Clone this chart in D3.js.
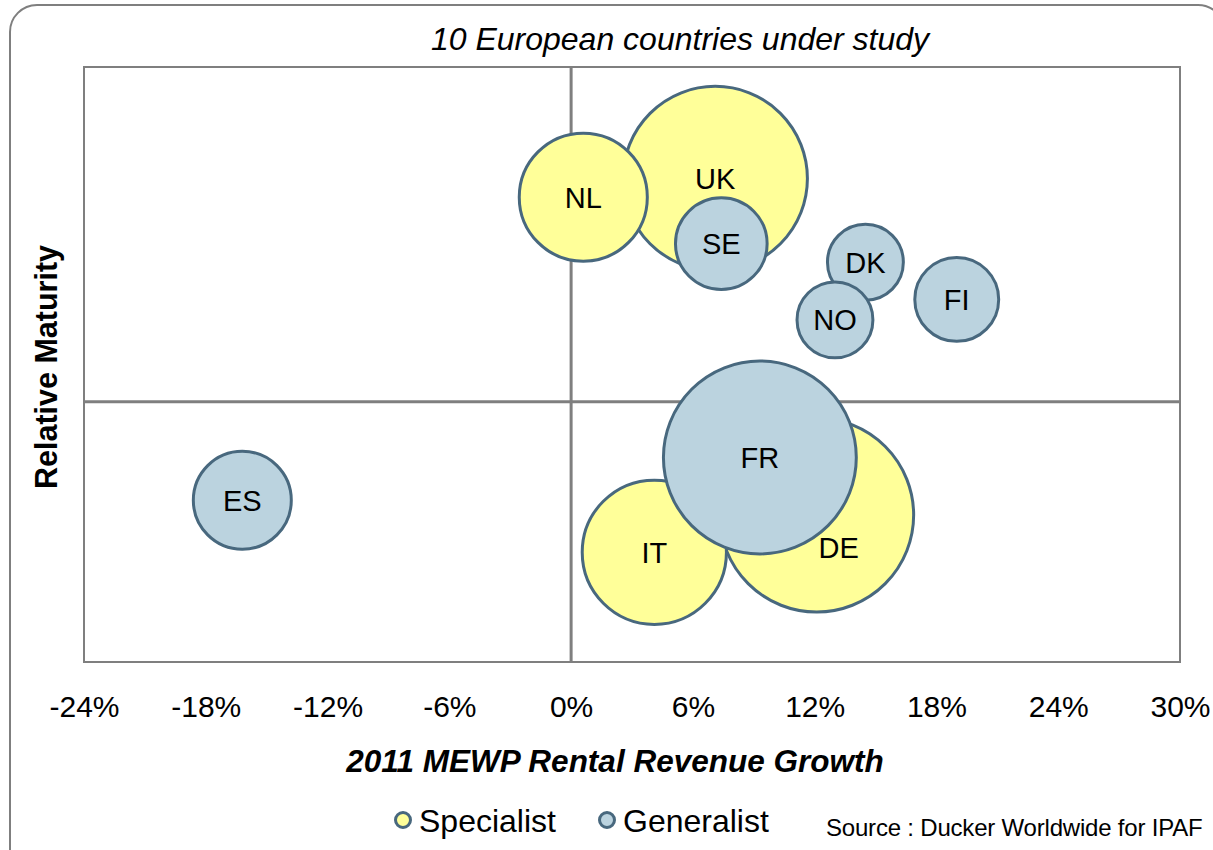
<!DOCTYPE html>
<html>
<head>
<meta charset="utf-8">
<script src="https://cdn.jsdelivr.net/npm/d3@7"></script>
<style>
  body { margin: 0; background: #fff; }
  text { font-family: "Liberation Sans", Arial, sans-serif; fill: #000; }
</style>
</head>
<body>
<svg width="1213" height="850"></svg>
<script>
// bubble data
var countries = ["UK", "NL", "SE", "DE", "IT", "FR", "ES", "FI", "DK", "NO"];
var growth    = [0.071, 0.006, 0.074, 0.121, 0.041, 0.093, -0.162, 0.190, 0.145, 0.130];
var maturity  = [1.20, 1.10, 0.85, -0.61, -0.81, -0.30, -0.53, 0.55, 0.75, 0.44];
var marketSize = [85, 41, 21, 94, 52, 93, 24, 17.6, 14.4, 14.4];
var kind      = ["Specialist", "Specialist", "Generalist", "Specialist", "Specialist",
                 "Generalist", "Generalist", "Generalist", "Generalist", "Generalist"];

var xTicks = [-0.24, -0.18, -0.12, -0.06, 0, 0.06, 0.12, 0.18, 0.24, 0.30];
var legendItems = ["Specialist", "Generalist"];

var svg = d3.select("svg"),
    width = +svg.attr("width"),
    height = +svg.attr("height");

var fill = { Specialist: "#ffff99", Generalist: "#bbd3df" };
var edge = "#48687e";

// outer rounded frame
svg.append("rect")
    .attr("x", 10).attr("y", 5)
    .attr("width", 1215).attr("height", 880)
    .attr("rx", 27).attr("ry", 27)
    .attr("fill", "none")
    .attr("stroke", "#7f7f7f")
    .attr("stroke-width", 2);

var plotL = 84, plotR = 1180, plotT = 67, plotB = 662;

var x = d3.scaleLinear().domain([-0.24, 0.30]).range([plotL, plotR]);
var y = d3.scaleLinear().domain([-1.4, 1.8]).range([plotB, plotT]);
var r = d3.scaleSqrt().domain([0, 100]).range([0, 100]);

// plot area
svg.append("rect")
    .attr("x", plotL).attr("y", plotT)
    .attr("width", plotR - plotL).attr("height", plotB - plotT)
    .attr("fill", "none")
    .attr("stroke", "#7f7f7f")
    .attr("stroke-width", 2);

// quadrant lines
svg.append("line")
    .attr("x1", x(0)).attr("x2", x(0))
    .attr("y1", plotT).attr("y2", plotB)
    .attr("stroke", "#7f7f7f").attr("stroke-width", 3);
svg.append("line")
    .attr("x1", plotL).attr("x2", plotR)
    .attr("y1", y(0)).attr("y2", y(0))
    .attr("stroke", "#7f7f7f").attr("stroke-width", 3);

// x axis labels (plain hyphen for negatives, like the original)
var pct = d3.format(".0%");
var xAxis = d3.axisBottom(x)
    .tickValues(xTicks)
    .tickSize(0)
    .tickPadding(0)
    .tickFormat(function(d) { return pct(d).replace("\u2212", "-"); });

var gx = svg.append("g")
    .attr("transform", "translate(0," + 717 + ")")
    .call(xAxis);
gx.select(".domain").remove();
gx.selectAll("text")
    .attr("dy", 0)
    .style("font-family", "'Liberation Sans', Arial, sans-serif")
    .style("font-size", "30px")
    .attr("fill", "#000");

var bubbles = countries.map(function(c, i) {
  return { id: c, gx: growth[i], my: maturity[i], s: marketSize[i], kind: kind[i] };
});

var node = svg.append("g")
    .attr("class", "nodes")
    .selectAll("circle")
    .data(bubbles)
    .enter().append("circle")
    .attr("cx", function(d) { return x(d.gx); })
    .attr("cy", function(d) { return y(d.my); })
    .attr("r", function(d) { return r(d.s); })
    .attr("fill", function(d) { return fill[d.kind]; })
    .attr("stroke", edge)
    .attr("stroke-width", 3);

// labels sit at the centre, DE's was nudged down-right in the original
var nudge = { DE: [22, 32] };

svg.append("g")
    .selectAll("text")
    .data(bubbles)
    .enter().append("text")
    .attr("x", function(d) { return x(d.gx) + (nudge[d.id] ? nudge[d.id][0] : 0); })
    .attr("y", function(d) { return y(d.my) + (nudge[d.id] ? nudge[d.id][1] : 0); })
    .attr("dy", "0.36em")
    .attr("text-anchor", "middle")
    .style("font-size", "29px")
    .text(function(d) { return d.id; });

// titles
svg.append("text")
    .attr("x", 680).attr("y", 50)
    .attr("text-anchor", "middle")
    .style("font-size", "32px")
    .style("font-style", "italic")
    .text("10 European countries under study");

svg.append("text")
    .attr("x", 615).attr("y", 772)
    .attr("text-anchor", "middle")
    .style("font-size", "31.5px")
    .style("font-style", "italic")
    .style("font-weight", "bold")
    .text("2011 MEWP Rental Revenue Growth");

svg.append("text")
    .attr("transform", "translate(57,367) rotate(-90)")
    .attr("text-anchor", "middle")
    .style("font-size", "30.5px")
    .style("font-weight", "bold")
    .text("Relative Maturity");

// legend
var legend = svg.append("g")
    .selectAll("g")
    .data(legendItems)
    .enter().append("g")
    .attr("transform", function(d, i) { return "translate(" + (403 + i * 204) + ",820)"; });

legend.append("circle")
    .attr("r", 7.5)
    .attr("fill", function(d) { return fill[d]; })
    .attr("stroke", edge)
    .attr("stroke-width", 3);

legend.append("text")
    .attr("x", 16)
    .attr("dy", "0.36em")
    .style("font-size", "32px")
    .text(function(d) { return d; });

svg.append("text")
    .attr("x", 826).attr("y", 836)
    .style("font-size", "24px")
    .style("letter-spacing", "-0.2px")
    .attr("fill", "#222")
    .text("Source : Ducker Worldwide for IPAF");
</script>
</body>
</html>
